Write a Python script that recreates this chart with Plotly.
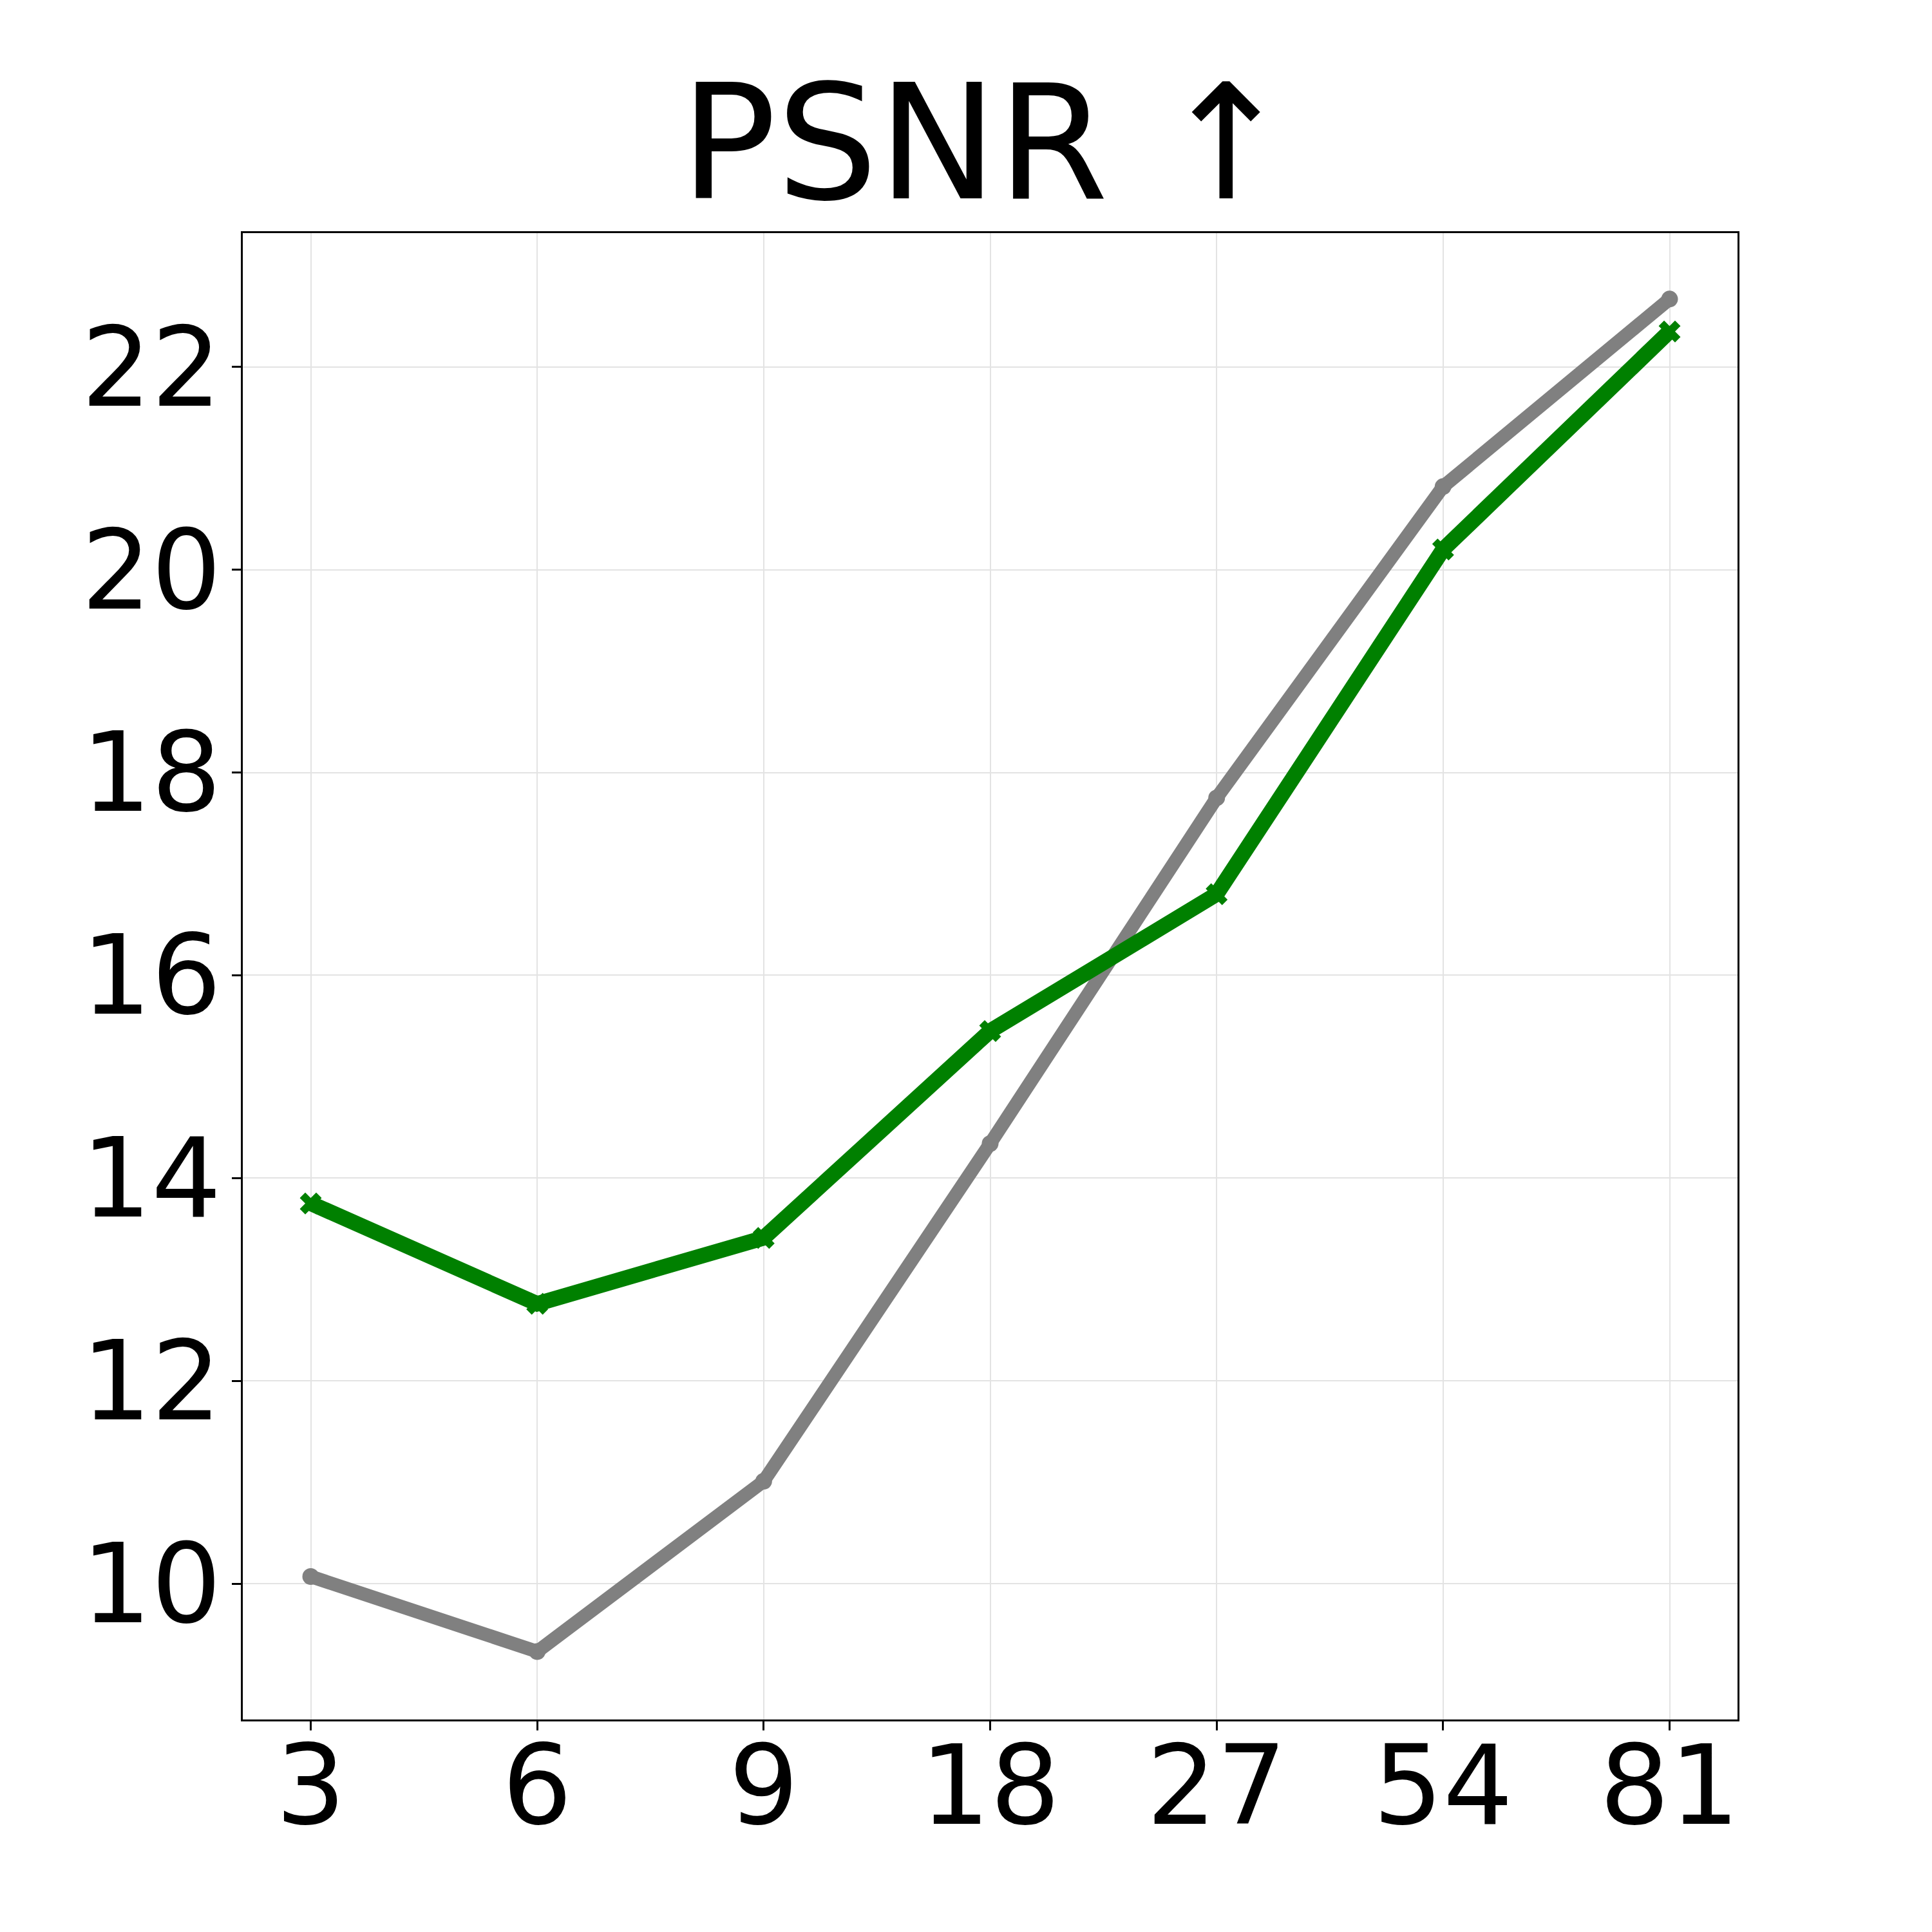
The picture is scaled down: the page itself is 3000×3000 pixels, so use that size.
import plotly.graph_objects as go

categories = ["3", "6", "9", "18", "27", "54", "81"]
gray_values = [10.07, 9.33, 11.01, 14.34, 17.75, 20.82, 22.67]
green_values = [13.75, 12.76, 13.41, 15.45, 16.80, 20.20, 22.35]
y_ticks = [10, 12, 14, 16, 18, 20, 22]

FONT = "DejaVu Sans"

fig = go.Figure()
fig.add_trace(go.Scatter(
    x=categories, y=gray_values, mode="lines+markers",
    line=dict(color="#808080", width=21),
    marker=dict(symbol="circle", size=26, color="#808080"),
    showlegend=False,
))
fig.add_trace(go.Scatter(
    x=categories, y=green_values, mode="lines+markers",
    line=dict(color="#008000", width=24),
    marker=dict(symbol="x", size=30, color="#008000"),
    showlegend=False,
))

fig.update_layout(
    width=3000, height=3000,
    margin=dict(l=369, r=310, t=354, b=338),
    paper_bgcolor="white", plot_bgcolor="white",
    title=dict(text="PSNR ↑", x=0.508, xanchor="center", y=1 - 300/3000, yanchor="bottom",
               font=dict(family=FONT, size=248, color="black")),
    font=dict(family=FONT, color="black"),
)
fig.update_xaxes(
    type="category", range=[-0.3, 6.3],
    showline=True, linecolor="black", linewidth=3, mirror=True,
    showgrid=True, gridcolor="#e3e3e3", gridwidth=2,
    ticks="outside", ticklen=14, tickwidth=3, tickcolor="black",
    tickfont=dict(family=FONT, size=171, color="black"),
    ticklabelstandoff=-60,
    zeroline=False,
)
fig.update_yaxes(
    range=[8.66, 23.32],
    tickvals=y_ticks, ticktext=[str(v) for v in y_ticks],
    showline=True, linecolor="black", linewidth=3, mirror=True,
    showgrid=True, gridcolor="#e3e3e3", gridwidth=2,
    ticks="outside", ticklen=14, tickwidth=3, tickcolor="black",
    tickfont=dict(family=FONT, size=171, color="black"),
    ticklabelstandoff=-18,
    zeroline=False,
)

fig.write_html("out.html")
